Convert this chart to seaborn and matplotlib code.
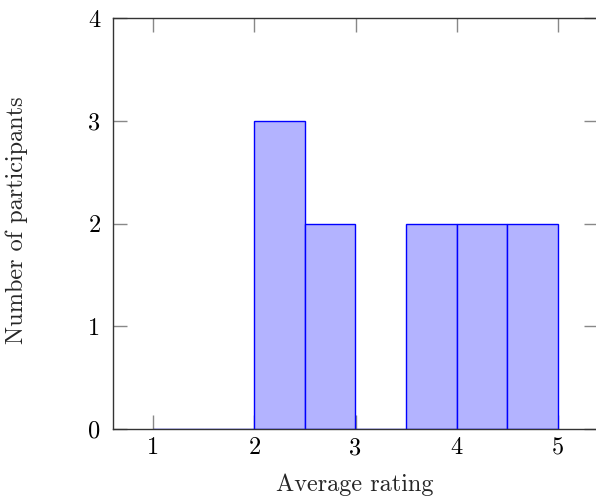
import matplotlib
matplotlib.use("Agg")
import matplotlib.pyplot as plt
import seaborn as sns
import numpy as np

# Data
bin_edges = [1.0, 1.5, 2.0, 2.5, 3.0, 3.5, 4.0, 4.5, 5.0]
counts = [0, 0, 3, 2, 0, 2, 2, 2]
x_ticks = [1, 2, 3, 4, 5]
y_ticks = [0, 1, 2, 3, 4]
x_label = "Average rating"
y_label = "Number of participants"

sns.set_style("white")
plt.rcParams['font.family'] = ['cmr10', 'DejaVu Serif']
plt.rcParams['axes.formatter.use_mathtext'] = True

FS = 17.5
fig = plt.figure(figsize=(5.96, 4.98), dpi=100)
L, R, T, B = 113, 598, 18.5, 429
ax = fig.add_axes([L/596, 1 - B/498, (R-L)/596, (B-T)/498])

centers = [(bin_edges[i] + bin_edges[i+1]) / 2 for i in range(len(counts))]
sns.histplot(x=centers, weights=counts, bins=bin_edges, ax=ax,
             color="#b3b3ff", alpha=1.0, edgecolor="#0000ff", linewidth=1.0)

ax.set_xlim(0.6, 5.4)
ax.set_ylim(0, 4)
ax.set_xticks(x_ticks)
ax.set_yticks(y_ticks)
ax.set_xticklabels([str(v) for v in x_ticks])
ax.set_yticklabels([str(v) for v in y_ticks])
ax.tick_params(direction='in', length=10, width=1, color='#888888',
               top=True, right=True, bottom=True, left=True,
               labelsize=FS, labelcolor='black')
ax.tick_params(axis='x', pad=6)
ax.tick_params(axis='y', pad=9)
for s in ax.spines.values():
    s.set_visible(True)
    s.set_color('#333333')
    s.set_linewidth(1.0)

ax.set_xlabel(x_label, fontsize=FS)
ax.set_ylabel(y_label, fontsize=FS)
ax.xaxis.set_label_coords(0.5 - 1/(R-L), (B-485)/(B-T))
ax.xaxis.label.set_va('center')
ax.yaxis.set_label_coords((17-L)/(R-L), (B-220)/(B-T))
ax.yaxis.label.set_va('center')
ax.grid(False)

fig.savefig("out.png", dpi=100)
